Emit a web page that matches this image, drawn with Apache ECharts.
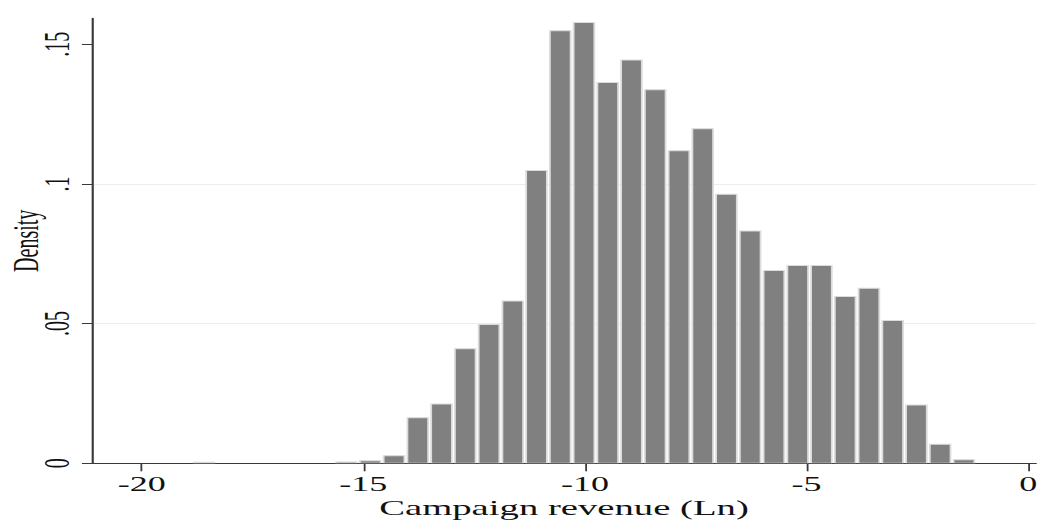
<!DOCTYPE html>
<html>
<head>
<meta charset="utf-8">
<title>Campaign revenue (Ln) — histogram</title>
<script src="https://cdn.jsdelivr.net/npm/echarts@6/dist/echarts.min.js"></script>
<style>
  html, body { margin: 0; padding: 0; background: #ffffff; overflow: hidden; }
  /* The chart is laid out narrow and widened horizontally, giving the
     wide horizontal lettering and tall, narrow rotated lettering. */
  #stage { width: 1039px; height: 520px; overflow: hidden; }
  #chart { width: 577px; height: 520px; transform: scaleX(1.800693); transform-origin: 0 0; }
</style>
</head>
<body>
<div id="stage"><div id="chart"></div></div>
<script>
// Histogram bins: first bin start and common bin width (log revenue units)
const binStart = -18.861;
const binWidth = 0.5357;

// Density of each bin, left to right
const density = [
  0.0004, 0, 0, 0, 0, 0, 0.0005, 0.0009, 0.0027, 0.0163,
  0.0212, 0.0410, 0.0497, 0.0581, 0.1048, 0.1548, 0.1578, 0.1363, 0.1444, 0.1337,
  0.1119, 0.1198, 0.0963, 0.0832, 0.0690, 0.0708, 0.0708, 0.0597, 0.0627, 0.0511,
  0.0209, 0.0068, 0.0013
];

// Axis ranges and tick labels
const xRange = [-21.121, 0.174];
const yRange = [0, 0.1593];
const xTicks = [-20, -15, -10, -5, 0];
const yTicks = [0, 0.05, 0.1, 0.15];

const xTitle = 'Campaign revenue (Ln)';
const yTitle = 'Density';

// [binLeft, binRight, density] rows for the custom series
const bins = density.map((d, i) => [
  binStart + i * binWidth,
  binStart + (i + 1) * binWidth,
  d
]);

const serif = 'Liberation Serif';
const chart = echarts.init(document.getElementById('chart'), null, { renderer: 'svg' });

chart.setOption({
  animation: false,
  backgroundColor: '#ffffff',
  grid: {
    left: 51.1, right: 1.7, top: 18.3, bottom: 56.7,
    containLabel: false,
    outerBoundsMode: 'none'
  },
  xAxis: {
    type: 'value',
    min: xRange[0],
    max: xRange[1],
    name: xTitle,
    nameLocation: 'middle',
    nameGap: 36,
    nameMoveOverlap: false,
    nameTextStyle: { fontFamily: serif, fontSize: 21.5, lineHeight: 17, color: '#111111' },
    axisLine: { show: true, onZero: false, lineStyle: { color: '#3a3a3a', width: 1.2 } },
    axisTick: { show: true, customValues: xTicks, length: 8, lineStyle: { color: '#3a3a3a', width: 1 } },
    axisLabel: {
      customValues: xTicks,
      margin: 13.5,
      lineHeight: 15,
      fontFamily: serif,
      fontSize: 20,
      color: '#111111',
      formatter: v => String(v)
    },
    splitLine: { show: false }
  },
  yAxis: {
    type: 'value',
    min: yRange[0],
    max: yRange[1],
    interval: 0.05,
    name: yTitle,
    nameLocation: 'middle',
    nameRotate: 90,
    nameGap: 27,
    nameMoveOverlap: false,
    nameTextStyle: { fontFamily: serif, fontSize: 20, color: '#111111' },
    axisLine: { show: true, onZero: false, lineStyle: { color: '#3a3a3a', width: 1.2 } },
    axisTick: { show: true, customValues: yTicks, length: 5.6, lineStyle: { color: '#3a3a3a', width: 1 } },
    axisLabel: {
      customValues: yTicks,
      rotate: 90,
      margin: 9.5,
      fontFamily: serif,
      fontSize: 20,
      color: '#111111',
      formatter: v => (v === 0 ? '0' : String(v).replace(/^0/, ''))
    },
    splitLine: {
      show: true,
      showMinLine: false,
      showMaxLine: false,
      lineStyle: { color: '#ececec', width: 1 }
    }
  },
  series: [{
    type: 'custom',
    data: bins,
    encode: { x: [0, 1], y: 2 },
    clip: true,
    renderItem: (params, api) => {
      const h = api.value(2);
      if (!(h > 0)) return null;
      const topLeft = api.coord([api.value(0), h]);
      const bottomRight = api.coord([api.value(1), 0]);
      const inset = 0.85;
      return {
        type: 'rect',
        shape: {
          x: topLeft[0] + inset,
          y: topLeft[1],
          width: bottomRight[0] - topLeft[0] - 2 * inset,
          height: bottomRight[1] - topLeft[1]
        },
        style: { fill: '#808080', stroke: '#dcdcdc', lineWidth: 1 }
      };
    }
  }]
});
</script>
</body>
</html>
